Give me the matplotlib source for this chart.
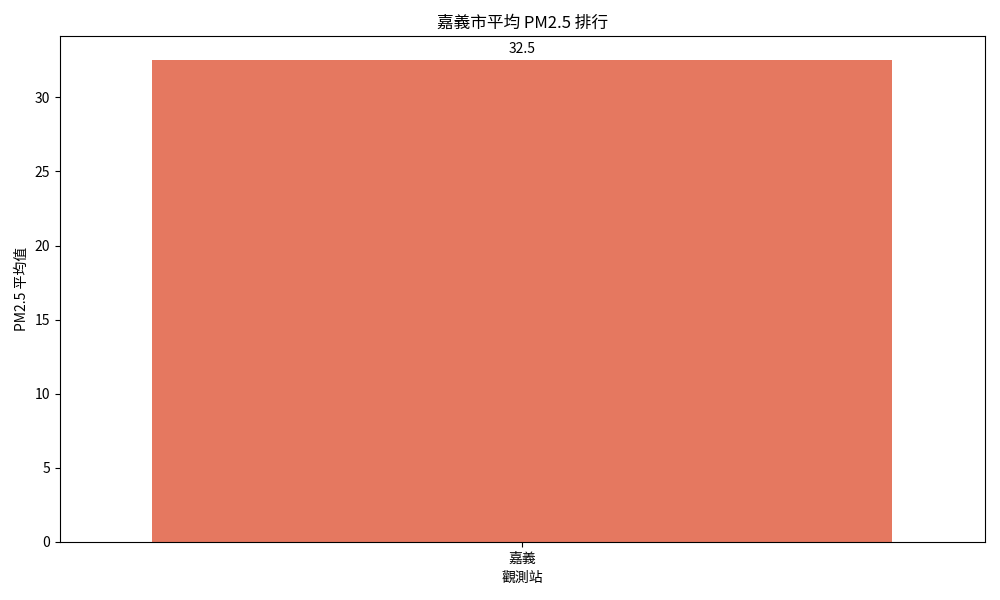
import matplotlib
matplotlib.use("Agg")
import matplotlib.pyplot as plt

plt.rcParams['font.family'] = ['Noto Sans CJK TC', 'DejaVu Sans']

stations = ["嘉義"]
values = [32.5]

fig, ax = plt.subplots(figsize=(10, 6), dpi=100)
bars = ax.bar(stations, values, width=0.8, color="#e57860")
for b, v in zip(bars, values):
    ax.annotate(f"{v:.1f}", (b.get_x() + b.get_width() / 2, v),
                xytext=(0, 3), textcoords="offset points",
                ha="center", va="bottom", fontsize=10)
ax.set_xlim(-0.5, len(stations) - 0.5)
ax.set_title("嘉義市平均 PM2.5 排行")
ax.set_xlabel("觀測站")
ax.set_ylabel("PM2.5 平均值")
fig.tight_layout()
fig.savefig("out.png")
